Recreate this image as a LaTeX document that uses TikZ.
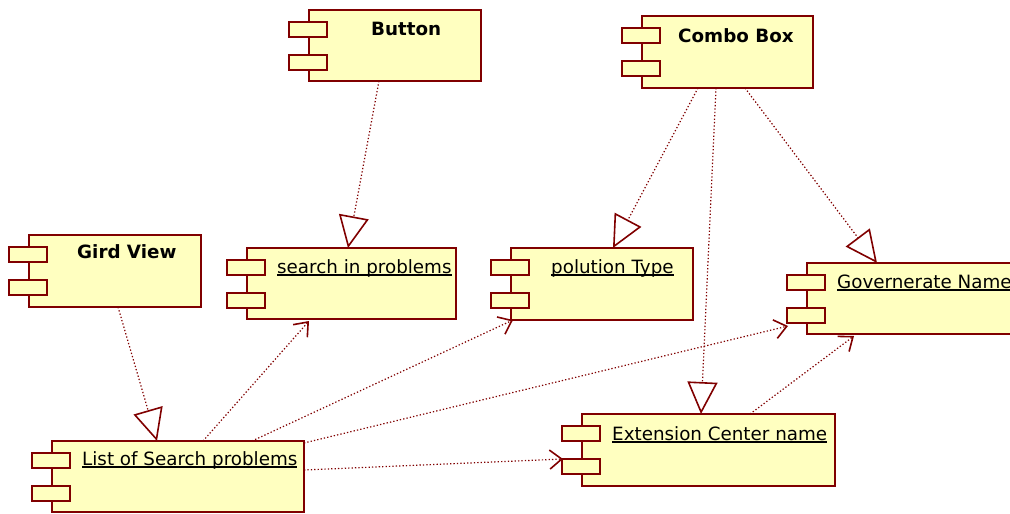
\documentclass[tikz,border=0pt]{standalone}
\usepackage{fontspec}
\setmainfont{DejaVu Sans}
\usetikzlibrary{arrows.meta,calc}
\definecolor{umlfill}{RGB}{255,255,192}
\definecolor{umlline}{RGB}{128,0,0}
\tikzset{
  comp/.style={draw=umlline,fill=umlfill,line width=1.6pt,inner sep=0pt,outer sep=0pt,anchor=north west,minimum height=71pt},
  tab/.style={draw=umlline,fill=umlfill,line width=1.6pt,inner sep=0pt,outer sep=0pt,anchor=north west,minimum width=38pt,minimum height=15pt},
  lbl/.style={anchor=base west,inner sep=0pt,font=\fontsize{18.3}{21}\selectfont},
  blbl/.style={lbl,font=\fontsize{18.3}{21}\selectfont\bfseries},
  conn/.style={draw=umlline,line width=1.2pt,dash pattern=on 1.3pt off 2.1pt},
  gen/.style={conn,-{Triangle[open,length=32pt,width=30pt,line width=1.6pt]}},
  dep/.style={conn,-{Straight Barb[length=12pt,width=19pt,line width=1.6pt]}}
}
\newcommand{\tabs}[1]{%
  \node[tab] (#1t1) at ($(#1.north west)+(-20,12)$) {};
  \node[tab] (#1t2) at ($(#1.north west)+(-20,45)$) {};
}
\newcommand{\myul}[1]{\setbox0\hbox{#1}\rlap{\rule[-3pt]{\wd0}{1.7pt}}\box0}
\begin{document}
\begin{tikzpicture}[x=1pt,y=-1pt]
\useasboundingbox (0,0) rectangle (1010,514);
\clip (0,0) rectangle (1010,514);
% components
\node[comp,minimum width=172pt] (button) at (309,10) {};
\node[comp,minimum width=171pt,minimum height=72pt] (combo) at (642,16) {};
\node[comp,minimum width=172pt,minimum height=72pt] (gird) at (29,235) {};
\node[comp,minimum width=209pt] (search) at (247,248) {};
\node[comp,minimum width=182pt,minimum height=72pt] (pol) at (511,248) {};
\node[comp,minimum width=225pt] (gov) at (807,263) {};
\node[comp,minimum width=253pt,minimum height=72pt] (ext) at (582,414) {};
\node[comp,minimum width=252pt] (list) at (52,441) {};
\tabs{button}
\tabs{combo}
\tabs{gird}
\tabs{search}
\tabs{pol}
\tabs{gov}
\tabs{ext}
\tabs{list}
% labels
\node[blbl] (buttonl) at (371,35) {Button};
\node[blbl] (combol) at (678,42) {Combo Box};
\node[blbl] (girdl) at (77,258) {Gird View};
\node[lbl] (searchl) at (277,273) {\myul{search in problems}};
\node[lbl] (poll) at (551,273) {\myul{polution Type}};
\node[lbl] (govl) at (837,288) {\myul{Governerate Name}};
\node[lbl] (extl) at (612,440) {\myul{Extension Center name}};
\node[lbl] (listl) at (82,465) {\myul{List of Search problems}};
% generalizations
\draw[gen] ($(button.south west)+(70,0)$) -- ($(search.north west)+(101,0)$);
\draw[gen] ($(combo.south west)+(56,0)$) -- ($(pol.north west)+(102,0)$);
\draw[gen] ($(combo.south west)+(74,0)$) -- ($(ext.north west)+(119,0)$);
\draw[gen] ($(combo.south west)+(103,0)$) -- ($(gov.north west)+(70,0)$);
\draw[gen] ($(gird.south west)+(89,0)$) -- ($(list.north west)+(105,0)$);
% dependencies
\draw[dep] ($(list.north west)+(151,0)$) -- ($(search.south west)+(62,2)$);
\draw[dep] ($(list.north west)+(200,0)$) -- ($(pol.south west)+(2,0)$);
\draw[dep] ($(list.north east)+(0,2)$) -- ($(govt2.south west)+(1,3)$);
\draw[dep] ($(list.north east)+(0,29)$) -- ($(extt2.north west)+(1,0)$);
\draw[dep] ($(ext.north west)+(168,0)$) -- ($(gov.south west)+(47,2)$);
\end{tikzpicture}
\end{document}
